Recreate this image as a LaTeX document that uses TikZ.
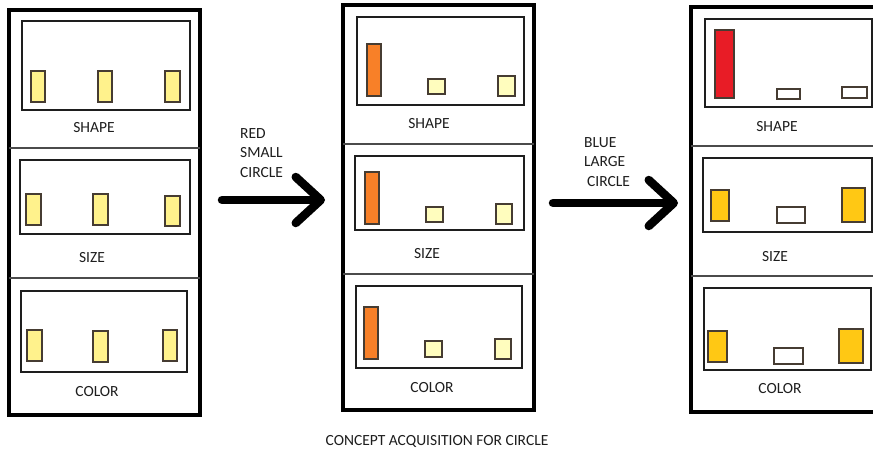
\documentclass[tikz,border=0pt]{standalone}
\usepackage{fontspec}
\setmainfont{Carlito}
\usetikzlibrary{arrows.meta}
\definecolor{ccink}{RGB}{30,30,30}
\definecolor{ccedge}{RGB}{70,60,50}
\definecolor{ccpale}{RGB}{255,242,140}
\definecolor{cccream}{RGB}{255,253,190}
\definecolor{ccorange}{RGB}{248,128,40}
\definecolor{ccred}{RGB}{232,28,38}
\definecolor{ccgold}{RGB}{255,200,20}
\tikzset{
  panel/.style={draw=black, line width=3.2pt},
  split/.style={draw=ccink!80, line width=1.2pt},
  frame/.style={draw=ccink, line width=1.3pt},
  blk/.style={draw=ccedge, line width=1.2pt},
  pale/.style={blk, fill=ccpale},
  cream/.style={blk, fill=cccream},
  hotbar/.style={blk, fill=ccorange},
  redbar/.style={blk, fill=ccred},
  gold/.style={blk, fill=ccgold},
  blank/.style={blk, fill=white},
  lab/.style={font=\fontsize{15.5}{19.5}\selectfont, text=ccink, inner sep=0pt},
  arr/.style={line width=8.5pt, line cap=round,
              -{Straight Barb[length=25pt, width=46pt, line cap=round, line join=round]}}
}
\newcommand\blk[5]{\draw[#1] (#2,#3) rectangle (#4,#5);}

\begin{document}
\begin{tikzpicture}[x=1pt, y=-1pt]
  \path[use as bounding box, clip] (0,0) rectangle (873,453);
  \fill[white] (0,0) rectangle (873,453);

  % panel 1: starting concept
  \draw[panel] (9,10) rectangle (200,415);
  \draw[split] (9,148) -- (200,148);
  \draw[split] (9,278) -- (200,278);
  \draw[frame] (22,21) rectangle (190,110);
  \draw[frame] (20,160) rectangle (190,234);
  \draw[frame] (21,291) rectangle (187,372);
  \blk{pale}{31}{71}{45}{102}
  \blk{pale}{98}{71}{112}{102}
  \blk{pale}{165}{71}{180}{102}
  \blk{pale}{26}{194}{41}{225}
  \blk{pale}{93}{194}{108}{225}
  \blk{pale}{165}{196}{180}{226}
  \blk{pale}{27}{330}{42}{361}
  \blk{pale}{93}{331}{108}{362}
  \blk{pale}{163}{330}{177}{361}
  \node[lab] (s1) at (94,128) {SHAPE};
  \node[lab] (z1) at (92,258) {SIZE};
  \node[lab] (c1) at (97,392) {COLOR};

  % panel 2: after red small circle
  \draw[panel] (343,5) rectangle (534,410);
  \draw[split] (343,144) -- (534,144);
  \draw[split] (343,274) -- (534,274);
  \draw[frame] (357,17) rectangle (524,105);
  \draw[frame] (355,156) rectangle (524,230);
  \draw[frame] (356,286) rectangle (522,368);
  \blk{hotbar}{367}{44}{381}{96}
  \blk{cream}{428}{79}{445}{94}
  \blk{cream}{498}{76}{515}{96}
  \blk{hotbar}{365}{172}{379}{224}
  \blk{cream}{426}{207}{443}{222}
  \blk{cream}{496}{204}{512}{224}
  \blk{hotbar}{364}{307}{378}{359}
  \blk{cream}{425}{341}{442}{357}
  \blk{cream}{495}{339}{511}{359}
  \node[lab] (s2) at (429,124) {SHAPE};
  \node[lab] (z2) at (427,254) {SIZE};
  \node[lab] (c2) at (432,388) {COLOR};

  % panel 3: after blue large circle
  \draw[panel] (691,7) rectangle (890,412);
  \draw[split] (691,146) -- (890,146);
  \draw[split] (691,276) -- (890,276);
  \draw[frame] (705,19) rectangle (872,107);
  \draw[frame] (703,158) rectangle (872,232);
  \draw[frame] (704,288) rectangle (871,370);
  \blk{redbar}{715}{30}{734}{98}
  \blk{blank}{777}{89}{800}{99}
  \blk{blank}{842}{87}{867}{98}
  \blk{gold}{711}{190}{729}{221}
  \blk{blank}{777}{207}{805}{223}
  \blk{gold}{842}{188}{865}{222}
  \blk{gold}{708}{331}{727}{362}
  \blk{blank}{774}{348}{803}{364}
  \blk{gold}{839}{329}{863}{363}
  \node[lab] (s3) at (777,127) {SHAPE};
  \node[lab] (z3) at (775,257) {SIZE};
  \node[lab] (c3) at (780,389) {COLOR};

  % arrows between panels
  \coordinate (t1) at (222,200);
  \coordinate (h1) at (325,200);
  \coordinate (t2) at (553,203);
  \coordinate (h2) at (678,203);
  \draw[arr] (t1) -- (h1);
  \draw[arr] (t2) -- (h2);
  \node[lab, align=left, anchor=west] (r1) at (240,153) {RED\\SMALL\\CIRCLE};
  \node[lab, align=left, anchor=west] (r2) at (584,162) {BLUE\\LARGE\\\hspace{3pt}CIRCLE};

  \node[lab] (cap) at (437,441) {CONCEPT ACQUISITION FOR CIRCLE};
\end{tikzpicture}
\end{document}
